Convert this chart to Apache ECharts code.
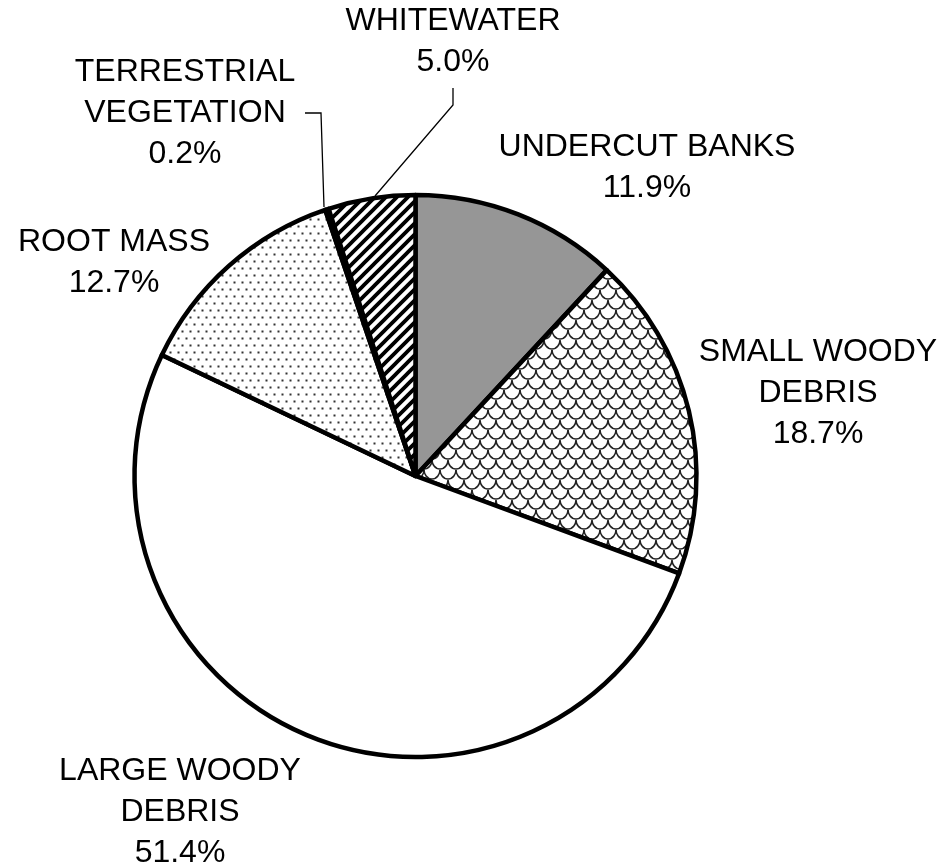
<!DOCTYPE html>
<html>
<head>
<meta charset="utf-8">
<script src="https://cdn.jsdelivr.net/npm/echarts@6/dist/echarts.min.js"></script>
<style>
html,body{margin:0;padding:0;background:#fff;}
#chart{width:945px;height:865px;}
</style>
</head>
<body>
<div id="chart"></div>
<script>
// ---- data ----
var categories = ['UNDERCUT BANKS', 'SMALL WOODY\nDEBRIS', 'LARGE WOODY\nDEBRIS', 'ROOT MASS', 'TERRESTRIAL\nVEGETATION', 'WHITEWATER'];
var values = [11.9, 18.7, 51.4, 12.7, 0.2, 5.0];

// ---- label placement (layout, not data) ----
var labelPos = [[647, 168], [818, 393], [180, 812], [114, 263], [185, 113], [453, 42]];

function makeTile(w, h, draw) {
  var c = document.createElement('canvas');
  c.width = w; c.height = h;
  var ctx = c.getContext('2d');
  ctx.fillStyle = '#fff';
  ctx.fillRect(0, 0, w, h);
  draw(ctx);
  return { image: c, repeat: 'repeat' };
}

var scalePat = makeTile(16, 20, function (ctx) {
  ctx.strokeStyle = '#222';
  ctx.lineWidth = 1.6;
  function scal(cx, cy) {
    ctx.beginPath();
    ctx.moveTo(cx - 8, cy);
    ctx.bezierCurveTo(cx - 8, cy + 4, cx - 5, cy + 9, cx, cy + 9);
    ctx.bezierCurveTo(cx + 5, cy + 9, cx + 8, cy + 4, cx + 8, cy);
    ctx.stroke();
  }
  scal(8, 0); scal(8, 20); scal(8, -20);
  scal(0, 10); scal(16, 10);
});

var dotPat = makeTile(8, 14, function (ctx) {
  ctx.fillStyle = '#333';
  ctx.fillRect(1.5, 1.5, 2, 2);
  ctx.fillRect(5.5, 8.5, 2, 2);
});

var stripePat = makeTile(11, 11, function (ctx) {
  ctx.strokeStyle = '#000';
  ctx.lineWidth = 3.8;
  ctx.beginPath();
  ctx.moveTo(-2, 13); ctx.lineTo(13, -2);
  ctx.moveTo(-3, 3); ctx.lineTo(3, -3);
  ctx.moveTo(8, 14); ctx.lineTo(14, 8);
  ctx.stroke();
});

var fills = ['#969696', scalePat, '#ffffff', dotPat, '#000000', stripePat];

var seriesData = categories.map(function (n, i) {
  return { name: n, value: values[i], itemStyle: { color: fills[i] } };
});

var chart = echarts.init(document.getElementById('chart'), null, { renderer: 'canvas' });
chart.setOption({
  backgroundColor: '#fff',
  animation: false,
  series: [{
    type: 'pie',
    center: [415.5, 476],
    radius: 281,
    startAngle: 90,
    clockwise: true,
    avoidLabelOverlap: false,
    itemStyle: { borderColor: '#000', borderWidth: 4.5 },
    label: {
      show: true,
      position: 'outside',
      formatter: function (p) { return p.name + '\n' + p.value.toFixed(1) + '%'; },
      fontFamily: 'Liberation Sans, Arial, sans-serif',
      fontSize: 32,
      lineHeight: 41,
      color: '#000',
      align: 'center'
    },
    labelLine: { show: false },
    labelLayout: function (params) {
      var p = labelPos[params.dataIndex];
      return { x: p[0], y: p[1], align: 'center', verticalAlign: 'middle' };
    },
    emphasis: { disabled: true },
    data: seriesData
  }],
  graphic: [
    { type: 'polyline', shape: { points: [[305, 113], [321, 113], [324, 207]] }, style: { stroke: '#000', lineWidth: 1.3, fill: null } },
    { type: 'polyline', shape: { points: [[453, 88], [453, 105], [375, 196]] }, style: { stroke: '#000', lineWidth: 1.3, fill: null } }
  ]
});
</script>
</body>
</html>
